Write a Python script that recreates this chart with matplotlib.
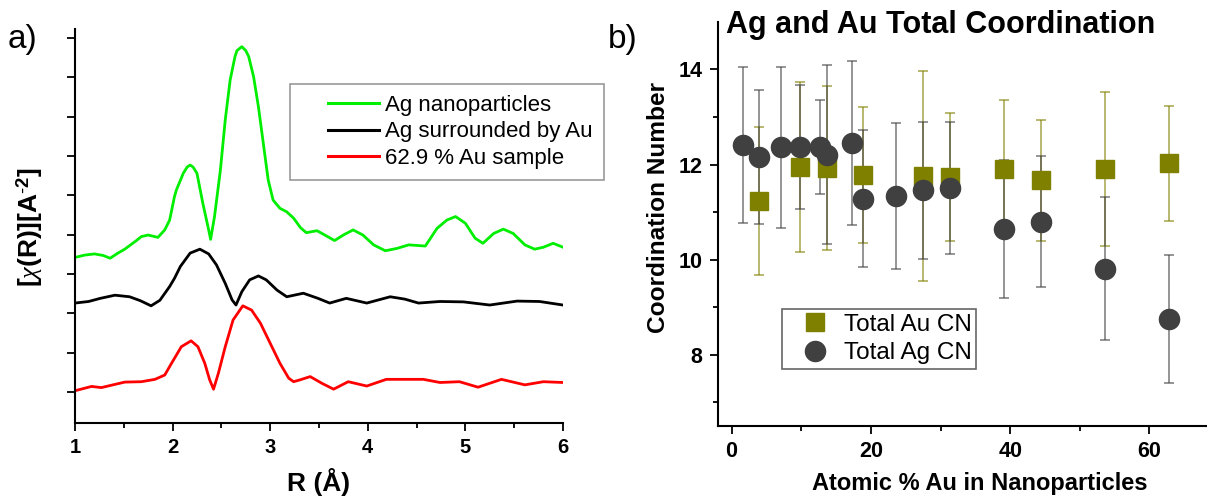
import numpy as np
from matplotlib import pyplot as plt

plt.rcParams['font.family'] = ['Liberation Sans', 'DejaVu Sans']
plt.rcParams['mathtext.fontset'] = 'custom'
plt.rcParams['mathtext.rm'] = 'Liberation Sans'
plt.rcParams['mathtext.bf'] = 'Liberation Sans:bold'
plt.rcParams['mathtext.it'] = 'Liberation Serif:italic'

# ---- panel a) : FT of EXAFS, offset curves (values read from picture)
R_green = [1.00, 1.10, 1.20, 1.29, 1.36, 1.44, 1.51, 1.63, 1.68, 1.75, 1.85, 1.92, 1.97, 2.02,
           2.04, 2.11, 2.15, 2.18, 2.21, 2.25, 2.31, 2.37, 2.39, 2.43, 2.49, 2.54, 2.59, 2.64,
           2.66, 2.71, 2.75, 2.78, 2.83, 2.88, 2.93, 2.98, 3.03, 3.10, 3.17, 3.24, 3.31, 3.37,
           3.48, 3.56, 3.66, 3.75, 3.85, 3.95, 4.06, 4.18, 4.30, 4.42, 4.59, 4.71, 4.81, 4.90,
           5.00, 5.10, 5.18, 5.29, 5.39, 5.49, 5.61, 5.71, 5.80, 5.90, 6.00]
chi_green = [3.42, 3.48, 3.51, 3.47, 3.40, 3.53, 3.63, 3.85, 3.95, 3.99, 3.93, 4.12, 4.37, 4.97,
             5.14, 5.56, 5.72, 5.77, 5.72, 5.56, 4.80, 4.12, 3.88, 4.46, 5.64, 6.92, 7.93, 8.53,
             8.68, 8.78, 8.68, 8.53, 8.02, 7.25, 6.32, 5.39, 4.88, 4.67, 4.58, 4.42, 4.18, 4.05,
             4.10, 3.99, 3.85, 3.99, 4.12, 3.99, 3.74, 3.59, 3.65, 3.74, 3.71, 4.16, 4.37, 4.46,
             4.29, 3.91, 3.78, 4.03, 4.14, 4.03, 3.74, 3.63, 3.68, 3.78, 3.68]

R_black = [1.00, 1.14, 1.26, 1.41, 1.56, 1.67, 1.78, 1.87, 1.97, 2.02, 2.08, 2.18, 2.28, 2.37,
           2.45, 2.54, 2.61, 2.65, 2.71, 2.79, 2.88, 2.96, 3.07, 3.17, 3.34, 3.49, 3.61, 3.78,
           3.99, 4.23, 4.38, 4.52, 4.74, 4.98, 5.25, 5.53, 5.76, 6.00]
chi_black = [2.26, 2.30, 2.38, 2.46, 2.42, 2.32, 2.19, 2.33, 2.68, 2.89, 3.19, 3.53, 3.63, 3.51,
             3.23, 2.76, 2.34, 2.21, 2.55, 2.85, 2.95, 2.85, 2.59, 2.42, 2.51, 2.38, 2.26, 2.38,
             2.26, 2.42, 2.36, 2.26, 2.30, 2.29, 2.21, 2.31, 2.30, 2.21]

R_red = [1.00, 1.17, 1.27, 1.51, 1.68, 1.82, 1.92, 1.99, 2.09, 2.19, 2.26, 2.33, 2.38, 2.42,
         2.47, 2.54, 2.62, 2.72, 2.81, 2.90, 3.00, 3.10, 3.19, 3.24, 3.31, 3.41, 3.53, 3.65,
         3.80, 3.99, 4.19, 4.57, 4.74, 4.94, 5.13, 5.37, 5.61, 5.80, 6.00]
chi_red = [0.03, 0.14, 0.11, 0.25, 0.26, 0.32, 0.43, 0.73, 1.15, 1.30, 1.15, 0.73, 0.31, 0.07,
           0.48, 1.15, 1.83, 2.19, 2.08, 1.75, 1.24, 0.73, 0.35, 0.26, 0.31, 0.39, 0.22, 0.07,
           0.26, 0.15, 0.32, 0.32, 0.24, 0.26, 0.12, 0.32, 0.18, 0.26, 0.24]

labels_a = ["Ag nanoparticles", "Ag surrounded by Au", "62.9 % Au sample"]

# ---- panel b) : coordination numbers
x_au = [3.97, 9.81, 13.74, 18.82, 27.44, 31.36, 39.17, 44.44, 53.64, 62.79]
cn_au = [11.23, 11.95, 11.93, 11.79, 11.76, 11.74, 11.90, 11.67, 11.90, 12.03]
err_au = [1.55, 1.79, 1.72, 1.43, 2.21, 1.34, 1.45, 1.27, 1.62, 1.21]

x_ag = [1.58, 3.97, 7.08, 9.81, 12.69, 13.74, 17.28, 18.91, 23.60, 27.44, 31.36, 39.17,
        44.44, 53.64, 62.79]
cn_ag = [12.41, 12.15, 12.36, 12.37, 12.37, 12.21, 12.45, 11.28, 11.34, 11.46, 11.50, 10.64,
         10.80, 9.81, 8.75]
err_ag = [1.65, 1.41, 1.70, 1.30, 0.98, 1.88, 1.72, 1.44, 1.53, 1.44, 1.39, 1.45, 1.38, 1.50,
          1.34]

fig = plt.figure(figsize=(12.07, 4.97), dpi=100)

# left panel
ax1 = fig.add_axes([0.0621, 0.1489, 0.4043, 0.7928])
ax1.plot(R_green, chi_green, color='#00ee00', lw=2, label=labels_a[0])
ax1.plot(R_black, chi_black, color='k', lw=2, label=labels_a[1])
ax1.plot(R_red, chi_red, color='#ff0000', lw=2, label=labels_a[2])
ax1.set_xlim(1, 6)
ax1.set_ylim(-0.79, 9.23)
ax1.set_xticks([1, 2, 3, 4, 5, 6])
ax1.set_xticks([1.5, 2.5, 3.5, 4.5, 5.5], minor=True)
ax1.set_yticks(range(10))
ax1.set_yticklabels([])
ax1.spines['top'].set_visible(False)
ax1.spines['right'].set_visible(False)
for s in ['left', 'bottom']:
    ax1.spines[s].set_linewidth(1.5)
ax1.tick_params(which='major', length=6, width=1.3, labelsize=14.5, pad=5)
ax1.tick_params(which='minor', length=3.5, width=1.3)
for t in ax1.get_xticklabels():
    t.set_fontweight('bold')
ax1.set_xlabel("R (Å)", fontsize=19, fontweight='bold', va='top')
ax1.xaxis.set_label_coords(0.5, -0.115)
ax1.set_ylabel(r"[$\mathit{\chi}$(R)][A$^{\mathbf{\text{-}2}}$]", fontsize=19,
               fontweight='bold', va='center')
ax1.yaxis.set_label_coords(-0.092, 0.497)
leg1 = ax1.legend(loc='upper left', bbox_to_anchor=(0.4406, 0.8604), fontsize=16,
                  frameon=True, fancybox=False, edgecolor='#808080', handlelength=3.8,
                  handletextpad=0.0, labelspacing=0.25, borderpad=0.49, borderaxespad=0)
leg1.get_frame().set_linewidth(1.2)
for ln in leg1.get_lines():
    y0 = ln.get_ydata()[0]
    ln.set_data([19.6, 56.3], [y0, y0])
    ln.set_linewidth(2.2)

# right panel
ax2 = fig.add_axes([0.5946, 0.1429, 0.4344, 0.8129])
ax2.errorbar(x_au, cn_au, yerr=err_au, fmt='none', ecolor='#808000', alpha=0.6,
             elinewidth=1.3, capsize=3.5, capthick=1.3)
ax2.errorbar(x_ag, cn_ag, yerr=err_ag, fmt='none', ecolor='#404040', alpha=0.6,
             elinewidth=1.3, capsize=3.5, capthick=1.3)
ax2.plot(x_au, cn_au, ls='none', marker='s', ms=12.5, color='#808000', label="Total Au CN")
ax2.plot(x_ag, cn_ag, ls='none', marker='o', ms=14.5, color='#404040', label="Total Ag CN")
ax2.set_xlim(-2.0, 73.3)
ax2.set_ylim(6.5, 15.0)
ax2.set_xticks([0, 20, 40, 60])
ax2.set_xticks([10, 30, 50, 70], minor=True)
ax2.set_yticks([8, 10, 12, 14])
ax2.set_yticks([7, 9, 11, 13], minor=True)
ax2.spines['top'].set_visible(False)
ax2.spines['right'].set_visible(False)
for s in ['left', 'bottom']:
    ax2.spines[s].set_linewidth(1.5)
ax2.tick_params(which='major', length=6, width=1.3, labelsize=15.5, pad=5)
ax2.tick_params(which='minor', length=3.5, width=1.3)
for t in ax2.get_xticklabels() + ax2.get_yticklabels():
    t.set_fontweight('bold')
ax2.set_xlabel("Atomic % Au in Nanoparticles", fontsize=17, fontweight='bold', va='top')
ax2.xaxis.set_label_coords(0.5, -0.113)
ax2.set_ylabel("Coordination Number", fontsize=17.6, fontweight='bold', va='center')
ax2.yaxis.set_label_coords(-0.112, 0.542)
leg2 = ax2.legend(loc='upper left', bbox_to_anchor=(0.1221, 0.2889), fontsize=17.5,
                  frameon=True, fancybox=False, edgecolor='#404040', handlelength=2.39,
                  handletextpad=0.0, labelspacing=0.27, borderpad=0.18, borderaxespad=0)
leg2.get_frame().set_linewidth(1.2)

fig.text(0.6015, 0.9326, "Ag and Au Total Coordination", fontsize=22, fontweight='bold',
         ha='left', va='baseline')
fig.text(0.0066, 0.903, "a)", fontsize=24, ha='left', va='baseline')
fig.text(0.504, 0.903, "b)", fontsize=24, ha='left', va='baseline')

fig.savefig("out.png", dpi=100)
